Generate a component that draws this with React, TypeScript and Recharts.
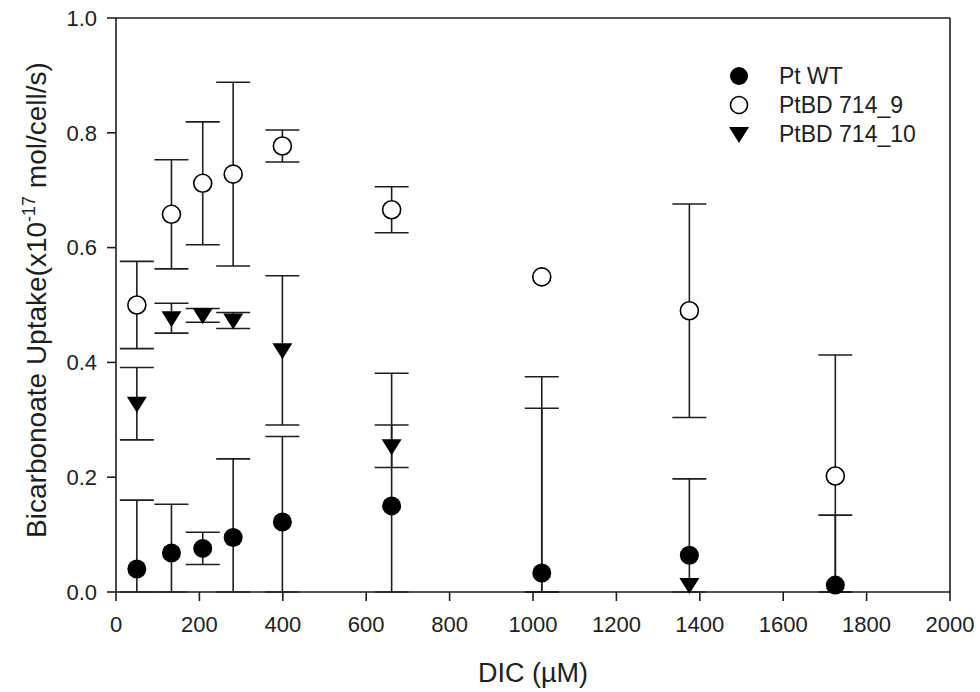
import React from "react";
import {
  ScatterChart,
  Scatter,
  XAxis,
  YAxis,
  ErrorBar,
  ReferenceLine,
  Legend,
} from "recharts";

const dicWT = [50, 133, 208, 281, 399, 661, 1021, 1375, 1725];
const valWT = [0.04, 0.068, 0.076, 0.095, 0.122, 0.15, 0.033, 0.064, 0.012];
const errWT = [0.12, 0.085, 0.028, 0.137, 0.149, 0.231, 0.342, 0.133, 0.122];

const dic9 = [50, 133, 208, 281, 399, 661, 1021, 1375, 1725];
const val9 = [0.5, 0.658, 0.712, 0.728, 0.777, 0.666, 0.549, 0.49, 0.202];
const err9 = [0.076, 0.095, 0.107, 0.16, 0.028, 0.04, 0, 0.186, 0.211];

const dic10 = [50, 133, 208, 281, 399, 661, 1021, 1375];
const val10 = [0.328, 0.477, 0.482, 0.473, 0.421, 0.254, -0.05, 0.012];
const err10 = [0.063, 0.026, 0.012, 0.014, 0.13, 0.037, 0.37, 0];

const seriesNames = ["Pt WT", "PtBD 714_9", "PtBD 714_10"];
const xTicks = [0, 200, 400, 600, 800, 1000, 1200, 1400, 1600, 1800, 2000];
const yTicks = [0, 0.2, 0.4, 0.6, 0.8, 1.0];

const FONT = "'Liberation Sans', Arial, sans-serif";
const INK = "#1e1e1e";

function build(xs: number[], ys: number[], es: number[]) {
  return xs.map((x, i) => {
    const y = ys[i];
    const e = es[i];
    const shown = Math.max(y, 0);
    const low = shown - Math.max(y - e, 0);
    const high = y + e - shown;
    return { x, y: shown, raw: y, err: e > 0 ? [low, high] : undefined };
  });
}

const dataWT = build(dicWT, valWT, errWT);
const data9 = build(dic9, val9, err9);
const data10 = build(dic10, val10, err10);

const FilledCircle = (p: any) =>
  p.payload && p.payload.raw < 0 ? <g /> : <circle cx={p.cx} cy={p.cy} r={9.5} fill="#000" />;
const OpenCircle = (p: any) =>
  p.payload && p.payload.raw < 0 ? (
    <g />
  ) : (
    <circle cx={p.cx} cy={p.cy} r={9} fill="#fff" stroke="#000" strokeWidth={1.6} />
  );
const DownTri = (p: any) =>
  p.payload && p.payload.raw < 0 ? (
    <g />
  ) : (
    <polygon
      points={`${p.cx - 10},${p.cy - 7} ${p.cx + 10},${p.cy - 7} ${p.cx},${p.cy + 9}`}
      fill="#000"
    />
  );

const legendMarkers = [
  (cx: number, cy: number) => <circle cx={cx} cy={cy} r={9} fill="#000" />,
  (cx: number, cy: number) => (
    <circle cx={cx} cy={cy} r={8.5} fill="#fff" stroke="#000" strokeWidth={1.6} />
  ),
  (cx: number, cy: number) => (
    <polygon points={`${cx - 10},${cy - 7} ${cx + 10},${cy - 7} ${cx},${cy + 9}`} fill="#000" />
  ),
];

const renderLegend = () => (
  <div style={{ position: "relative", width: 240, height: 96 }}>
    {seriesNames.map((name, i) => (
      <div
        key={name}
        style={{
          position: "absolute",
          left: 0,
          top: i * 29,
          height: 28,
          display: "flex",
          alignItems: "center",
          whiteSpace: "nowrap",
        }}
      >
        <svg width={24} height={24} style={{ display: "block" }}>
          {legendMarkers[i](12, 12)}
        </svg>
        <span
          style={{
            marginLeft: 28,
            fontFamily: FONT,
            fontSize: 23,
            color: INK,
            lineHeight: "28px",
          }}
        >
          {name}
        </span>
      </div>
    ))}
  </div>
);

const YLabel = () => (
  <text
    x={0}
    y={0}
    transform="translate(46,300) rotate(-90)"
    textAnchor="middle"
    fontFamily={FONT}
    fontSize={28}
    fill={INK}
  >
    <tspan>Bicarbonoate Uptake(x10</tspan>
    <tspan dy={-11} fontSize={18}>
      -17
    </tspan>
    <tspan dy={11}> mol/cell/s)</tspan>
  </text>
);

const XLabel = () => (
  <text x={533} y={682} textAnchor="middle" fontFamily={FONT} fontSize={27} fill={INK}>
    DIC (µM)
  </text>
);

export default function App() {
  return (
    <div style={{ position: "absolute", left: 0, top: 0, background: "#fff" }}>
      <ScatterChart
        width={980}
        height={692}
        margin={{ top: 18, right: 30, left: 0, bottom: 0 }}
      >
        <XAxis
          type="number"
          dataKey="x"
          domain={[0, 2000]}
          ticks={xTicks}
          allowDataOverflow
          height={100}
          stroke={INK}
          strokeWidth={1.6}
          tickSize={9}
          tickMargin={15}
          tick={{ fontFamily: FONT, fontSize: 22, fill: INK }}
          tickLine={{ stroke: INK, strokeWidth: 1.6 }}
          label={<XLabel />}
        />
        <YAxis
          type="number"
          dataKey="y"
          domain={[0, 1]}
          ticks={yTicks}
          width={116}
          stroke={INK}
          strokeWidth={1.6}
          tickSize={9}
          tickMargin={10}
          tickFormatter={(v: number) => v.toFixed(1)}
          tick={{ fontFamily: FONT, fontSize: 22, fill: INK }}
          tickLine={{ stroke: INK, strokeWidth: 1.6 }}
          label={<YLabel />}
        />
        <ReferenceLine y={1} stroke={INK} strokeWidth={1.6} />
        <ReferenceLine x={2000} stroke={INK} strokeWidth={1.6} />
        <Legend
          layout="vertical"
          align="center"
          verticalAlign="middle"
          content={renderLegend}
          wrapperStyle={{ position: "absolute", left: 727, top: 62, width: 240 }}
        />
        <Scatter name={seriesNames[0]} data={dataWT} shape={FilledCircle} isAnimationActive={false}>
          <ErrorBar dataKey="err" direction="y" width={17} stroke={INK} strokeWidth={1.6} />
        </Scatter>
        <Scatter name={seriesNames[1]} data={data9} shape={OpenCircle} isAnimationActive={false}>
          <ErrorBar dataKey="err" direction="y" width={17} stroke={INK} strokeWidth={1.6} />
        </Scatter>
        <Scatter name={seriesNames[2]} data={data10} shape={DownTri} isAnimationActive={false}>
          <ErrorBar dataKey="err" direction="y" width={17} stroke={INK} strokeWidth={1.6} />
        </Scatter>
      </ScatterChart>
    </div>
  );
}
